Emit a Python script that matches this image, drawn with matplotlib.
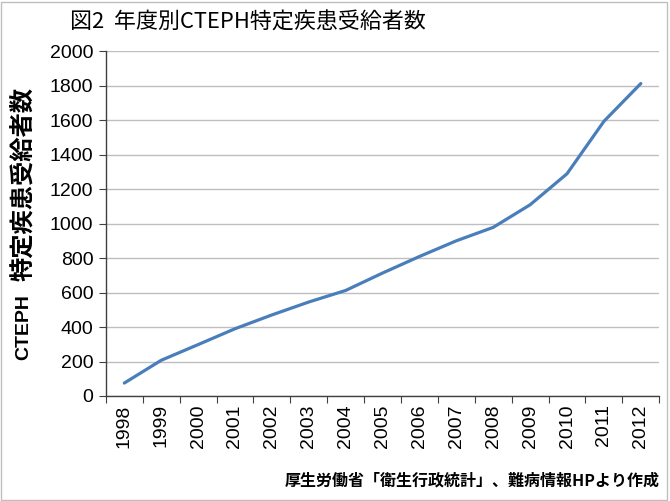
import numpy as np
import matplotlib.pyplot as plt
from matplotlib.patches import Rectangle

plt.rcParams['font.family'] = ['Liberation Sans', 'Noto Sans CJK JP', 'DejaVu Sans']

# 年度別 CTEPH 特定疾患受給者数
years = ['1998', '1999', '2000', '2001', '2002', '2003', '2004', '2005',
         '2006', '2007', '2008', '2009', '2010', '2011', '2012']
patients = [75, 207, 298, 390, 470, 545, 612, 713, 809, 900, 978, 1109, 1289, 1593, 1812]
y_ticks = [0, 200, 400, 600, 800, 1000, 1200, 1400, 1600, 1800, 2000]

title = '図2  年度別CTEPH特定疾患受給者数'
ylabel_en = 'CTEPH'
ylabel_jp = '特定疾患受給者数'
source = '厚生労働省「衛生行政統計」、難病情報HPより作成'

cjk = ['Noto Sans CJK JP', 'DejaVu Sans']

fig = plt.figure(figsize=(6.7, 5.01), dpi=100)
ax = fig.add_axes([0.158, 0.2096, 0.826, 0.6884])

x = np.arange(len(years))
ax.plot(x, patients, color='#4A7EBB', linewidth=2.3, solid_capstyle='round', zorder=3)

ax.set_xlim(-0.5, len(years) - 0.5)
ax.set_ylim(0, 2000)
ax.set_yticks(y_ticks)
ax.set_yticklabels([str(v) for v in y_ticks], fontsize=14)
ax.yaxis.grid(True, color='#BFBFBF', linewidth=1.0)
ax.set_axisbelow(True)

# category ticks between the years, labels at the centres
ax.set_xticks(np.arange(len(years) + 1) - 0.5)
ax.set_xticklabels([])
ax.set_xticks(x, minor=True)
ax.set_xticklabels(years, minor=True, rotation=90, fontsize=14)
ax.tick_params(axis='x', which='major', direction='out', length=5, color='#404040')
ax.tick_params(axis='x', which='minor', length=0, pad=6)
ax.tick_params(axis='y', direction='out', length=5, color='#404040', pad=4)

for s in ['top', 'right']:
    ax.spines[s].set_visible(False)
for s in ['left', 'bottom']:
    ax.spines[s].set_color('#404040')
    ax.spines[s].set_linewidth(1.0)

# y label in two parts (latin + japanese)
fig.text(24 / 670, 1 - 327 / 501, ylabel_en, fontsize=14, fontweight='bold',
         rotation=90, ha='center', va='center')
fig.text(23 / 670, 1 - 184 / 501, ylabel_jp, fontsize=17.5, fontweight='bold',
         rotation=90, ha='center', va='center', family=cjk)

fig.text(0.37, 0.955, title, fontsize=15.8, ha='center', va='center', family=cjk)
fig.text(660 / 670, 0.04, source, fontsize=11.5, fontweight='bold', ha='right', va='center',
         family=cjk)

fig.patches.append(Rectangle((0.002, 0.002), 0.994, 0.994, transform=fig.transFigure,
                             fill=False, edgecolor='#BFBFBF', linewidth=1.0))

fig.savefig('out.png', dpi=100)
